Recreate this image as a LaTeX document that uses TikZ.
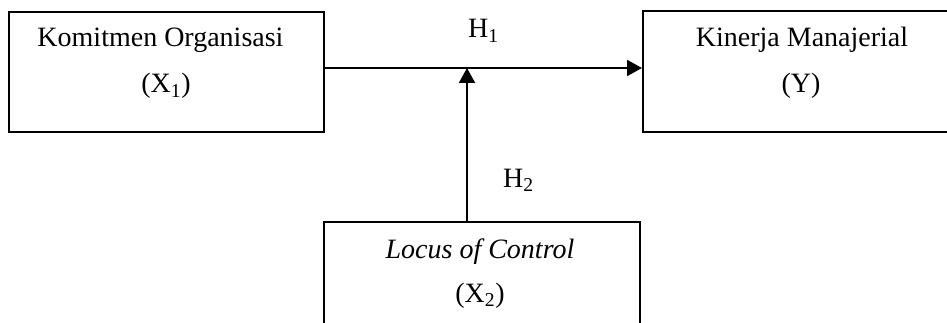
\documentclass[tikz,border=0pt]{standalone}
\usepackage{fontspec}
\setmainfont{Liberation Serif}
\usetikzlibrary{arrows.meta,calc}
\begin{document}
\begin{tikzpicture}[x=1pt,y=-1pt,
  box/.style={draw=black, line width=2pt, rectangle, inner sep=0pt, anchor=north west},
  txt/.style={anchor=base, inner sep=0pt, font=\fontsize{28pt}{34pt}\selectfont},
  arr/.style={line width=2pt, -{Triangle[length=15pt,width=16pt]}}]
  \useasboundingbox (0,0) rectangle (947,323);
  \clip (0,0) rectangle (947,323);
  % boxes
  \node[box, minimum width=315pt, minimum height=120pt] (x1) at (8,11) {};
  \node[box, minimum width=330pt, minimum height=121pt] (y) at (642,10) {};
  \node[box, minimum width=316pt, minimum height=130pt] (x2) at (323,221) {};
  % texts
  \node[txt] (t1a) at (160.5,47) {Komitmen Organisasi};
  \node[txt] (t1b) at (166,93) {(X\textsubscript{1})};
  \node[txt] (t2a) at (802,47) {Kinerja Manajerial};
  \node[txt] (t2b) at (801,93) {(Y)};
  \node[txt] (t3a) at (480,258) {\itshape Locus of Control};
  \node[txt] (t3b) at (480,302) {(X\textsubscript{2})};
  \node[txt, anchor=base west] (h1) at (468,38) {H\textsubscript{1}};
  \node[txt, anchor=base west] (h2) at (503,187) {H\textsubscript{2}};
  % connectors
  \coordinate (j) at (467,68);
  \draw[arr] (x1.east |- j) -- (y.west |- j);
  \draw[arr] (x2.north -| j) -- (j);
\end{tikzpicture}
\end{document}
